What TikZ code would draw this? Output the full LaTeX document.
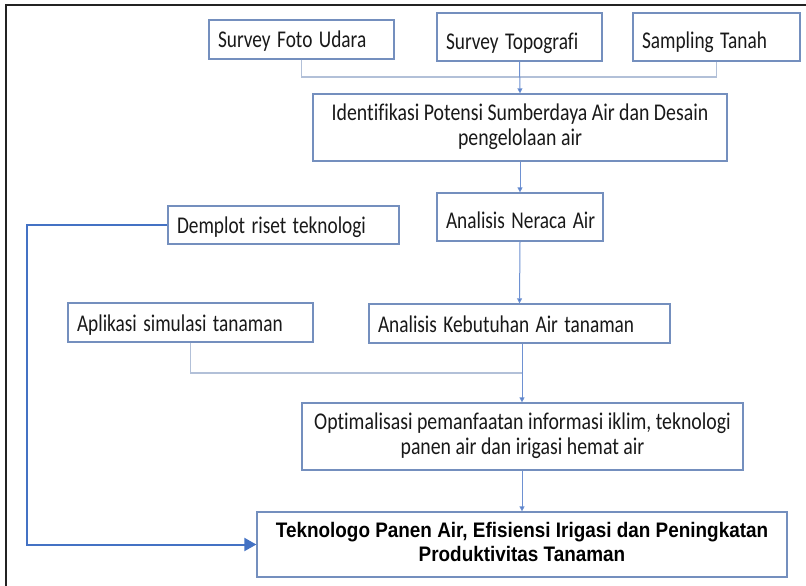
\documentclass[tikz,border=0pt]{standalone}
\usepackage{fontspec}
\usepackage{graphicx}
\setmainfont{Carlito}[Ligatures=NoCommon]
\newfontfamily\arialfont{Liberation Sans}
\usetikzlibrary{arrows.meta}
\newcommand\myboxfont{\fontsize{24}{25}\selectfont}
\newcommand\mytkfont{\arialfont\bfseries\fontsize{21}{24}\selectfont}
\newcommand\sq[1]{\scalebox{0.805}[1]{#1}}
\newcommand\sqc[1]{\scalebox{0.825}[1]{#1}}
\newcommand\sqt[1]{\scalebox{0.90}[1]{#1}}
\newcommand\twol[2]{\begin{tabular}{@{}c@{}}#1\\#2\end{tabular}}
\definecolor{boxc}{RGB}{116,143,190}
\definecolor{lineg}{RGB}{178,192,216}
\definecolor{linkc}{RGB}{110,145,210}
\definecolor{arrc}{RGB}{68,114,196}
\definecolor{framec}{RGB}{35,35,35}
\definecolor{txtc}{RGB}{25,25,25}
\tikzset{
  box/.style={draw=boxc, line width=1.3pt, fill=white, inner xsep=9pt, inner ysep=0pt,
    text=txtc, font=\myboxfont, anchor=center},
  lbox/.style={box, align=left, text height=16pt, text depth=6pt},
  cbox/.style={box, inner xsep=2pt},
  thinline/.style={draw=lineg, line width=1.1pt},
  flow/.style={draw=linkc, line width=1pt, -{Triangle[length=5pt,width=5pt,fill=arrc]}},
  bigflow/.style={draw=arrc, line width=2pt, -{Triangle[length=12pt,width=13pt]}},
}
\begin{document}
\begin{tikzpicture}[x=1pt,y=-1pt]
\useasboundingbox (0,0) rectangle (806,586);
\fill[white] (0,0) rectangle (806,586);
% frame
\draw[framec, line width=2.6pt] (6,586) -- (6,5) -- (806,5);

% nodes
\node[lbox, minimum width=185pt, minimum height=39pt, text width=167pt] (fu) at (301.5,39.5) {\raisebox{-3.5pt}{\sq{Survey Foto Udara}}};
\node[lbox, minimum width=165pt, minimum height=48pt, text width=147pt] (tp) at (519.5,37) {\raisebox{-8pt}{\sq{Survey Topografi}}};
\node[lbox, minimum width=167pt, minimum height=48pt, text width=149pt] (st) at (716.5,37) {\raisebox{-7pt}{\sq{Sampling Tanah}}};
\node[cbox, minimum width=414pt, minimum height=67pt] (id) at (520,127.5) {\sqc{\twol{Identifikasi Potensi Sumberdaya Air dan Desain}{pengelolaan air}}};
\node[lbox, minimum width=166pt, minimum height=48pt, text width=148pt] (nr) at (520,217) {\raisebox{-6pt}{\sq{Analisis Neraca Air}}};
\node[lbox, minimum width=231pt, minimum height=38pt, text width=213pt] (dp) at (283.5,225) {\raisebox{-3pt}{\sq{Demplot riset teknologi}}};
\node[lbox, minimum width=245pt, minimum height=39pt, text width=227pt] (ap) at (190.5,322.5) {\raisebox{-3.5pt}{\sq{Aplikasi simulasi tanaman}}};
\node[lbox, minimum width=301pt, minimum height=39pt, text width=283pt] (kb) at (519.5,323.5) {\raisebox{-3.5pt}{\sq{Analisis Kebutuhan Air tanaman}}};
\node[cbox, minimum width=441pt, minimum height=67pt] (op) at (522.5,436.5) {\sqc{\twol{Optimalisasi pemanfaatan informasi iklim, teknologi}{panen air dan irigasi hemat air}}};
\node[cbox, minimum width=530pt, minimum height=65pt, font=\mytkfont, text=black] (tk) at (522,544.5) {\sqt{\twol{Teknologo Panen Air, Efisiensi Irigasi dan Peningkatan}{Produktivitas Tanaman}}};

% junction coordinates
\coordinate (j1) at (520,77);
\coordinate (j2) at (522,373);
\coordinate (lc) at (27,225);

% connectors
\draw[thinline] (fu.south) |- (j1);
\draw[thinline] (st.south) |- (j1);
\draw[flow] (tp.south) -- (id.north);
\draw[flow] (id.south) -- (nr.north);
\draw[flow] (nr.south) -- (kb.north);
\draw[thinline] (ap.south) |- (j2);
\draw[flow] (kb.south -| j2) -- (op.north -| j2);
\draw[flow] (op.south -| j2) -- (tk.north -| j2);
\draw[bigflow] (dp.west) -- (lc) |- (tk.west);
\end{tikzpicture}
\end{document}
